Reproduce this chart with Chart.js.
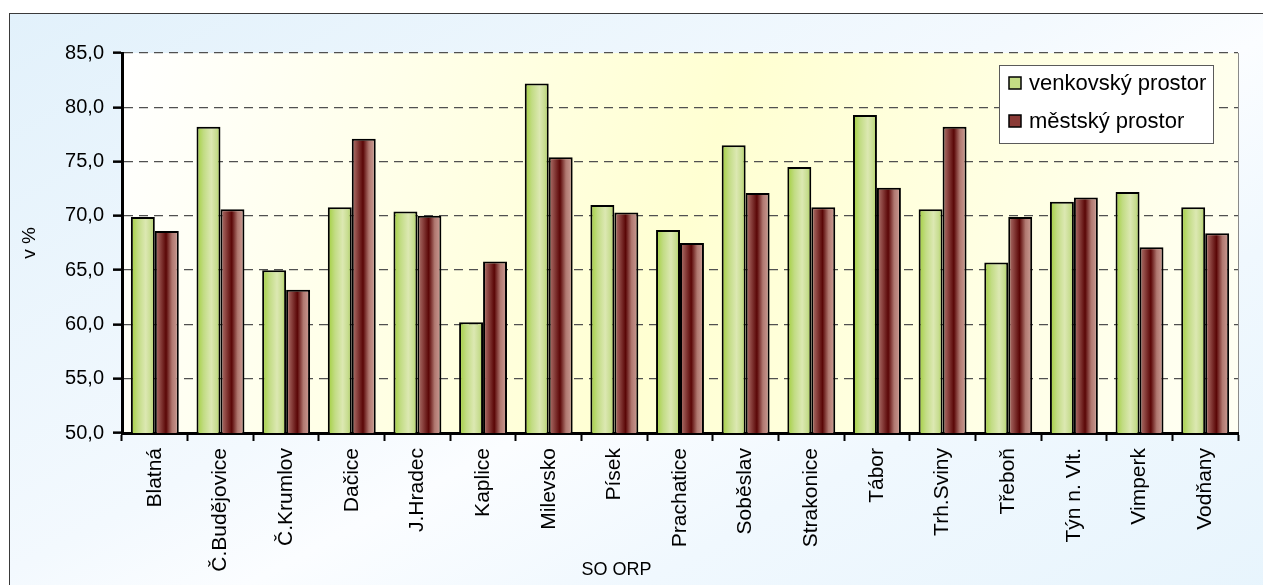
<!DOCTYPE html>
<html>
<head>
<meta charset="utf-8">
<script src="https://cdn.jsdelivr.net/npm/chart.js@4.4.1/dist/chart.umd.min.js"></script>
<style>
  html, body { margin:0; padding:0; width:1263px; height:585px; overflow:hidden; background:#ffffff; }
  #frame { position:absolute; left:9px; top:13px; width:1300px; height:700px; box-sizing:border-box;
           border:1.5px solid #3a3a3a;
           background: linear-gradient(to bottom right, #e2f1fb 0%, #f3f9fe 40%, #fbfdff 50%, #f0f8fe 65%, #e4f3fc 100%); }
  #wrap { position:absolute; left:0; top:0; width:1263px; height:585px; }
</style>
</head>
<body>
<div id="frame"></div>
<div id="wrap"><canvas id="c"></canvas></div>
<script>
const categories = ['Blatná','Č.Budějovice','Č.Krumlov','Dačice','J.Hradec','Kaplice','Milevsko','Písek','Prachatice','Soběslav','Strakonice','Tábor','Trh.Sviny','Třeboň','Týn n. Vlt.','Vimperk','Vodňany'];
const venkovskyProstor = [69.9, 78.2, 65.0, 70.8, 70.4, 60.2, 82.2, 71.0, 68.7, 76.5, 74.5, 79.3, 70.6, 65.7, 71.3, 72.2, 70.8];
const mestskyProstor   = [68.6, 70.6, 63.2, 77.1, 70.0, 65.8, 75.4, 70.3, 67.5, 72.1, 70.8, 72.6, 78.2, 69.9, 71.7, 67.1, 68.4];
const seriesNames = ['venkovský prostor', 'městský prostor'];
const yTicks = { min: 50, max: 85, step: 5 };
const axisTitles = { x: 'SO ORP', y: 'v %' };

const FONT = '"Liberation Sans", Arial, sans-serif';
const CAT_PCT = 0.73;

const gradStops = [
  [[0,'#a2cf3c'],[0.3,'#c2dc84'],[0.62,'#dce8b2'],[0.85,'#c6dc8e'],[1,'#a4cf44']],
  [[0,'#b07a72'],[0.22,'#8c4440'],[0.47,'#5a0606'],[0.72,'#b07870'],[1,'#cea098']]
];
const solid = ['#c4dc84', '#8a3a36'];

function barFill(which) {
  return function(ctx) {
    const chart = ctx.chart;
    const xs = chart.scales && chart.scales.x;
    if (!xs || ctx.type !== 'data' || !xs.width) return solid[which];
    const c = xs.getPixelForValue(ctx.dataIndex);
    const catW = xs.width / categories.length;
    const bw = catW * CAT_PCT / 2;
    const x0 = which === 0 ? c - bw : c;
    const g = chart.ctx.createLinearGradient(x0, 0, x0 + bw, 0);
    gradStops[which].forEach(s => g.addColorStop(s[0], s[1]));
    return g;
  };
}

const plotBg = {
  id: 'plotBg',
  beforeDraw(chart) {
    const {ctx, chartArea: a} = chart;
    ctx.save();
    const g = ctx.createLinearGradient(a.left, a.top, a.right, a.bottom);
    g.addColorStop(0, '#ffffff');
    g.addColorStop(0.5, '#ffffd2');
    g.addColorStop(1, '#fffff4');
    ctx.fillStyle = g;
    ctx.fillRect(a.left, a.top, a.right - a.left, a.bottom - a.top);
    ctx.strokeStyle = '#8a8a8a';
    ctx.lineWidth = 1;
    ctx.beginPath();
    ctx.moveTo(a.right + 0.5, a.top);
    ctx.lineTo(a.right + 0.5, a.bottom);
    ctx.stroke();
    ctx.restore();
  }
};

const customLegend = {
  id: 'customLegend',
  afterDraw(chart) {
    const {ctx, chartArea: a} = chart;
    const bx = a.right - 239, by = a.top + 12, bw = 214, bh = 78;
    ctx.save();
    ctx.fillStyle = '#ffffff';
    ctx.fillRect(bx, by, bw, bh);
    ctx.strokeStyle = '#5a5a5a';
    ctx.lineWidth = 1;
    ctx.strokeRect(bx + 0.5, by + 0.5, bw, bh);
    chart.data.datasets.forEach((ds, i) => {
      const cy = by + 18 + i * 38;
      ctx.fillStyle = solid[i];
      ctx.fillRect(bx + 10, cy - 6, 12, 12);
      ctx.strokeStyle = '#000';
      ctx.lineWidth = 1.5;
      ctx.strokeRect(bx + 10, cy - 6, 12, 12);
      ctx.fillStyle = '#000';
      ctx.font = '22px ' + FONT;
      ctx.textBaseline = 'middle';
      ctx.textAlign = 'left';
      ctx.fillText(ds.label, bx + 30, cy + 1);
    });
    ctx.restore();
  }
};

const xTitle = {
  id: 'xTitle',
  afterDraw(chart) {
    const {ctx, chartArea: a} = chart;
    ctx.save();
    ctx.fillStyle = '#000';
    ctx.font = '18px ' + FONT;
    ctx.textAlign = 'center';
    ctx.textBaseline = 'middle';
    ctx.fillText(axisTitles.x, a.left + (a.right - a.left) * 0.443, 570);
    ctx.restore();
  }
};

new Chart(document.getElementById('c'), {
  type: 'bar',
  data: {
    labels: categories,
    datasets: [
      { label: seriesNames[0], data: venkovskyProstor, backgroundColor: barFill(0), borderColor: '#000', borderWidth: 2, borderSkipped: false },
      { label: seriesNames[1], data: mestskyProstor, backgroundColor: barFill(1), borderColor: '#000', borderWidth: 2, borderSkipped: false }
    ]
  },
  options: {
    responsive: true,
    maintainAspectRatio: false,
    animation: false,
    events: [],
    categoryPercentage: CAT_PCT,
    barPercentage: 1.0,
    layout: { padding: { left: 0, top: 53, right: 25, bottom: 0 } },
    plugins: { legend: { display: false }, tooltip: { enabled: false }, title: { display: false } },
    scales: {
      x: {
        afterFit(s) { s.height = 152; },
        grid: { drawOnChartArea: false, drawTicks: true, tickLength: 8, tickColor: '#000', tickWidth: 2, offset: true },
        border: { display: true, color: '#000', width: 3 },
        ticks: { color: '#000', font: { family: FONT, size: 21 }, minRotation: 90, maxRotation: 90, padding: 7, autoSkip: false }
      },
      y: {
        min: yTicks.min, max: yTicks.max,
        afterFit(s) { s.width = 122; },
        grid: {
          color: (c) => (c.tick && c.tick.value === yTicks.min) ? 'rgba(0,0,0,0)' : '#505050',
          lineWidth: 1.3,
          tickLength: 9, tickColor: '#000', tickWidth: 2.5, tickBorderDash: []
        },
        border: { display: true, color: '#000', width: 3, dash: [9, 6] },
        ticks: {
          stepSize: yTicks.step, color: '#000', font: { family: FONT, size: 20 }, padding: 9,
          callback: (v) => Number(v).toFixed(1).replace('.', ',')
        },
        title: { display: true, text: axisTitles.y, color: '#000', font: { family: FONT, size: 19 }, padding: { top: 18, bottom: 0 } }
      }
    }
  },
  plugins: [plotBg, customLegend, xTitle]
});
</script>
</body>
</html>
